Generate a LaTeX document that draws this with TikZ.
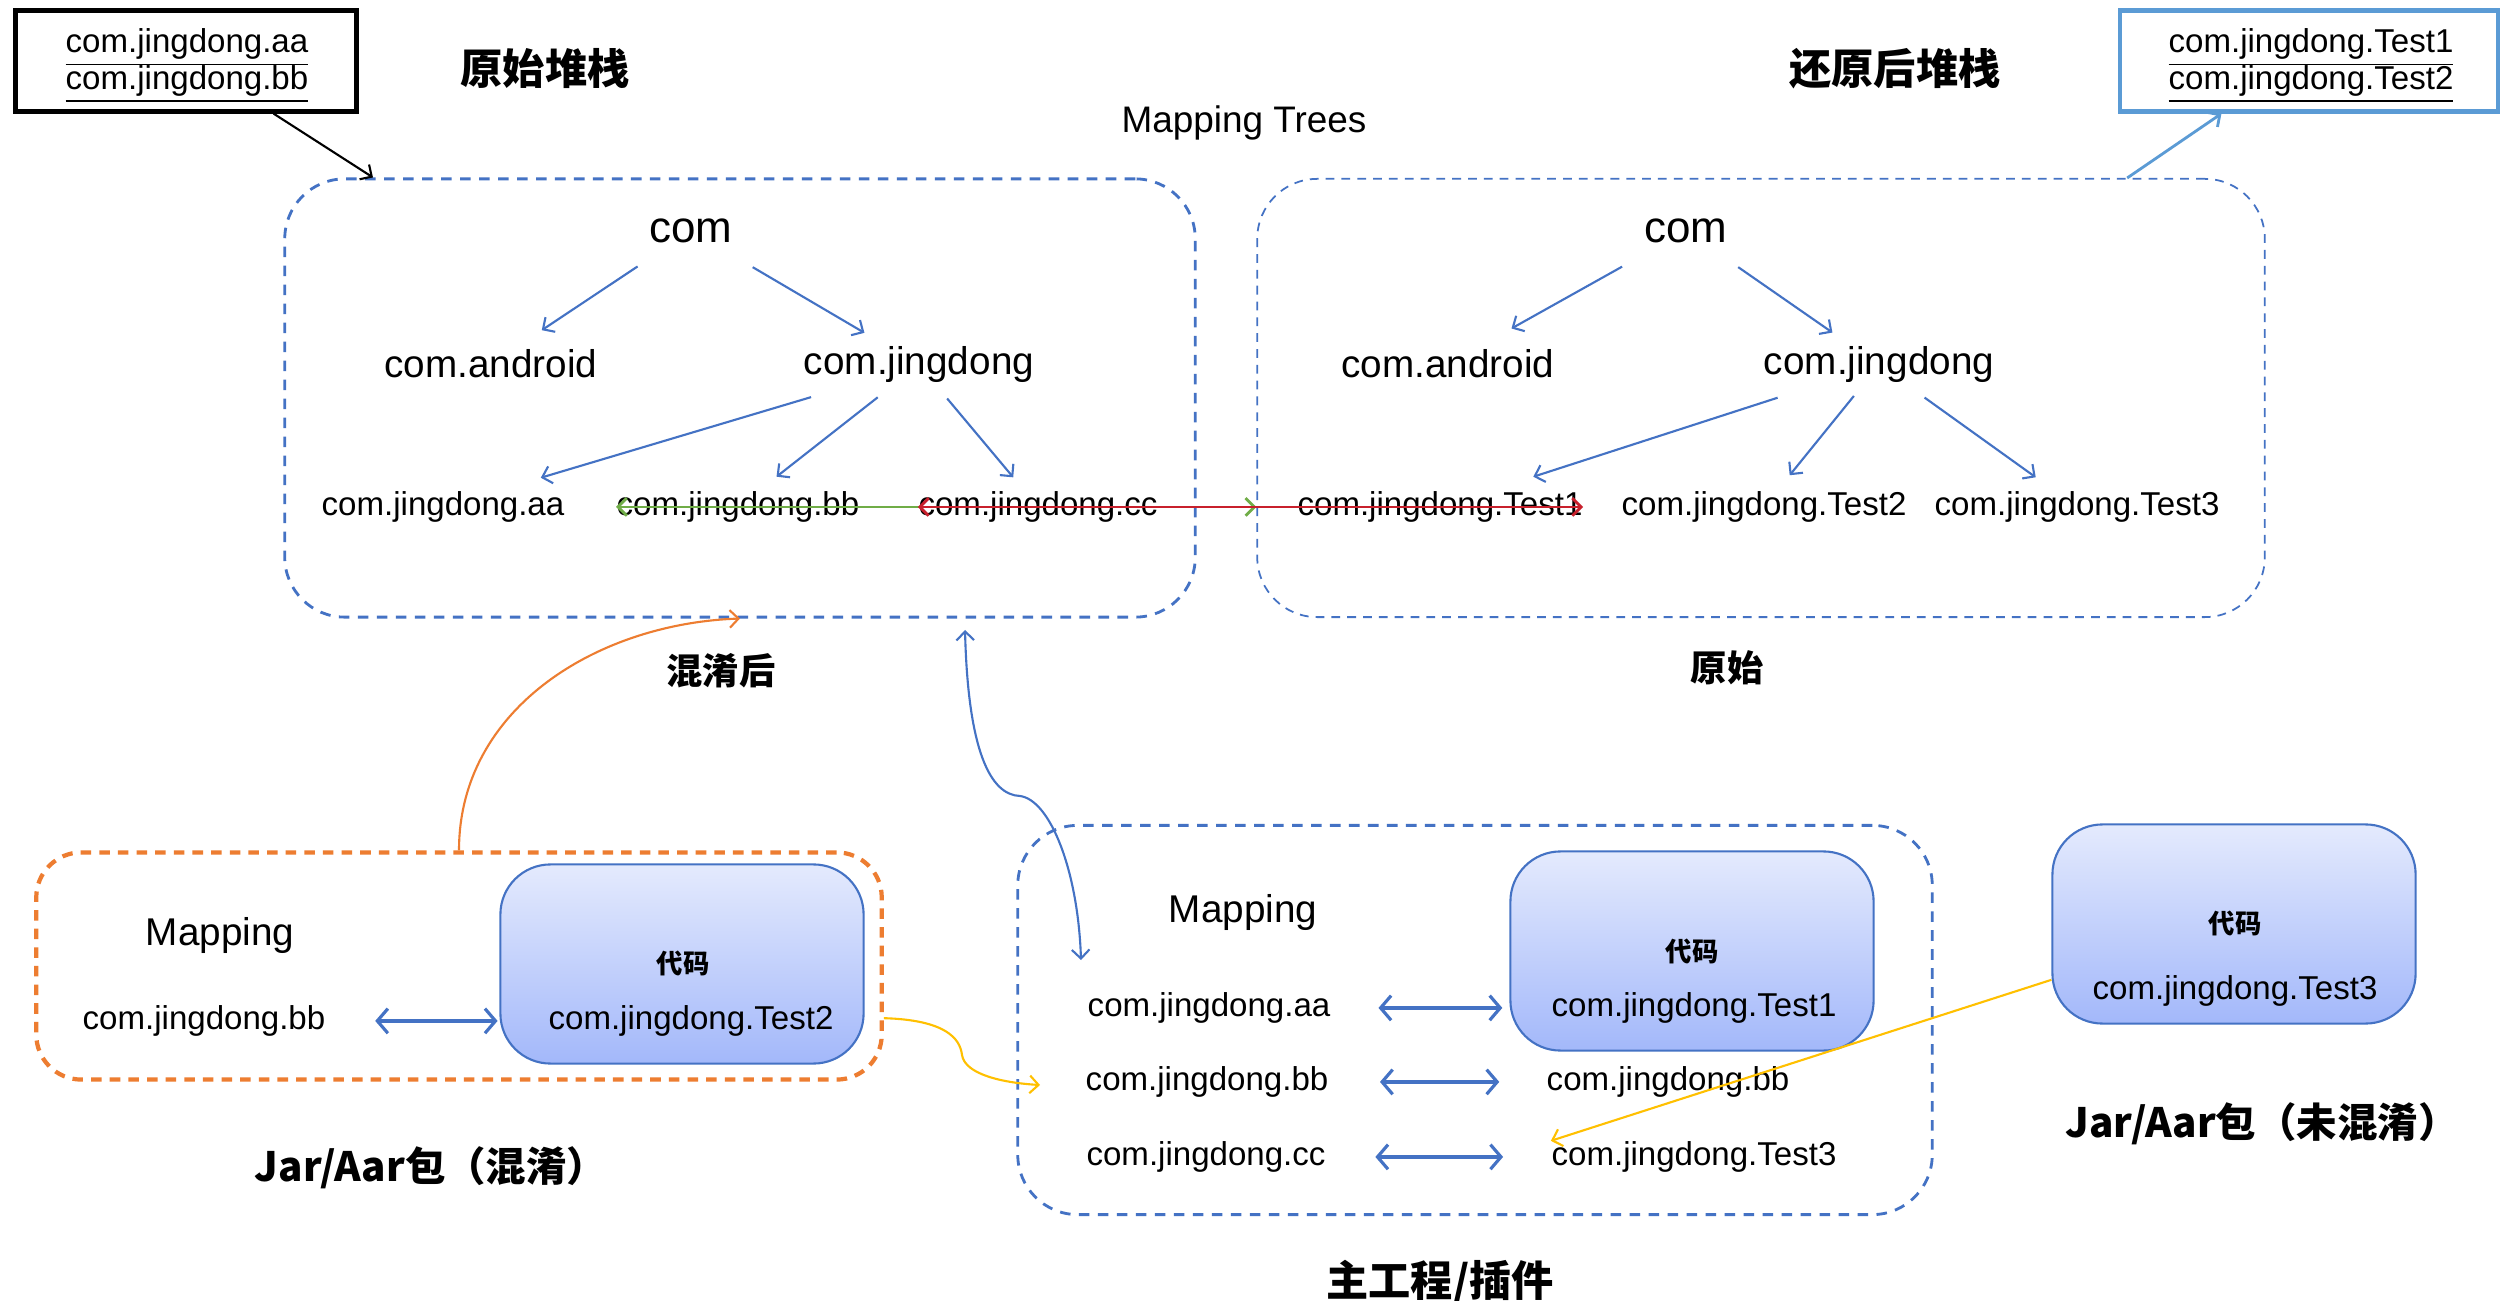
\documentclass[tikz,border=0pt]{standalone}
\usepackage{fontspec}
\setmainfont{Liberation Sans}
\newfontfamily\cjk{Noto Sans CJK SC}
\usetikzlibrary{arrows.meta, positioning}
\definecolor{jdblue}{HTML}{4472C4}
\definecolor{stackblue}{HTML}{5B9BD5}
\definecolor{jdorange}{HTML}{ED7D31}
\definecolor{jdyellow}{HTML}{FFC000}
\definecolor{jdgreen}{HTML}{70AD47}
\definecolor{jdred}{HTML}{C8202C}
\definecolor{codetop}{HTML}{E4EAFD}
\definecolor{codebot}{HTML}{A3B8FA}

\begin{document}
\begin{tikzpicture}[x=0.01cm, y=-0.01cm, >={Straight Barb[length=2.5pt, width=5pt]},
  item/.style={inner sep=0pt, yshift=-1.4pt, font=\fontsize{9.4}{11}\selectfont},
  big/.style={inner sep=0pt, font=\fontsize{11}{13}\selectfont},
  head/.style={inner sep=0pt, font=\cjk\bfseries\fontsize{12}{14}\selectfont},
  tag/.style={inner sep=0pt, font=\cjk\bfseries\fontsize{10.3}{12}\selectfont},
  code/.style={inner sep=0pt, font=\cjk\bfseries\fontsize{7.5}{9}\selectfont},
  dashbox/.style={draw=jdblue, line width=0.8pt, dash pattern=on 3pt off 2.4pt, rounded corners=0.6cm},
  codebox/.style={draw=jdblue, line width=0.6pt, rounded corners=0.5cm, top color=codetop, bottom color=codebot, minimum width=3.63cm, minimum height=1.99cm},
  treearrow/.style={->, jdblue, line width=0.6pt},
  link/.style={<->, jdblue, line width=0.9pt, >={Straight Barb[length=3pt, width=7pt]}}]
\useasboundingbox (0,0) rectangle (2501,1301);
\fill[white] (0,0) rectangle (2501,1301);

% stacks and titles
\node[draw, line width=1.2pt, minimum width=3.41cm, minimum height=1.01cm] (stackL) at (186,61) {};
\node[align=center, inner sep=0pt, font=\fontsize{9.4}{10.5}\selectfont] (stackLtxt) at (187,66) {\underline{com.jingdong.aa}\\[-1.5pt]\underline{com.jingdong.bb}};
\node[draw=stackblue, line width=1.2pt, minimum width=3.78cm, minimum height=1.01cm] (stackR) at (2309,61) {};
\node[align=center, inner sep=0pt, font=\fontsize{9.4}{10.5}\selectfont] (stackRtxt) at (2311,66) {\underline{com.jingdong.Test1}\\[-1.5pt]\underline{com.jingdong.Test2}};
\node[head] (tOrig) at (545,69) {原始堆栈};
\node[head] (tBack) at (1895,69) {还原后堆栈};
\node[inner sep=0pt, yshift=-0.8pt, font=\fontsize{10.5}{12}\selectfont] (tTrees) at (1244,120) {Mapping Trees};

% mapping trees
\node[dashbox, minimum width=9.10cm, minimum height=4.38cm] (ltree) at (740,398) {};
\node[dashbox, line width=0.5pt, dash pattern=on 2.5pt off 2pt, minimum width=10.07cm, minimum height=4.38cm] (rtree) at (1761,398) {};
\node[tag] (tMixed) at (721,671) {混淆后};
\node[tag] (tRaw) at (1727,668) {原始};

\node[inner sep=0pt, yshift=-1.4pt, font=\fontsize{12.5}{14}\selectfont] (lcom) at (691,226) {com};
\node[big] (land) at (491,364) {com.android};
\node[big, yshift=-1.4pt] (ljd) at (919,360) {com.jingdong};
\node[item] (laa) at (443,502) {com.jingdong.aa};
\node[item] (lbb) at (738,502) {com.jingdong.bb};
\node[item] (lcc) at (1038,502) {com.jingdong.cc};
\draw[treearrow, shorten <=11.7pt, shorten >=9.7pt] (lcom) -- (land);
\draw[treearrow, shorten <=13.2pt, shorten >=7.5pt] (lcom) -- (ljd);
\draw[treearrow, shorten <=13.4pt, shorten >=13pt] (ljd) -- (laa);
\draw[treearrow, shorten <=6.3pt, shorten >=6.5pt] (ljd) -- (lbb);
\draw[treearrow, shorten <=5.5pt, shorten >=5pt] (ljd) -- (lcc);

\node[inner sep=0pt, yshift=-1.4pt, font=\fontsize{12.5}{14}\selectfont] (rcom) at (1686,226) {com};
\node[big] (rand) at (1448,364) {com.android};
\node[big, yshift=-1.4pt] (rjd) at (1879,360) {com.jingdong};
\node[item] (rt1) at (1440,502) {com.jingdong.Test1};
\node[item] (rt2) at (1764,502) {com.jingdong.Test2};
\node[item] (rt3) at (2077,502) {com.jingdong.Test3};
\draw[treearrow, shorten <=13.4pt, shorten >=12pt] (rcom) -- (rand);
\draw[treearrow, shorten <=11.7pt, shorten >=6.8pt] (rcom) -- (rjd);
\draw[treearrow, shorten <=13pt, shorten >=13pt] (rjd) -- (rt1);
\draw[treearrow, shorten <=4.5pt, shorten >=5.7pt] (rjd) -- (rt2);
\draw[treearrow, shorten <=6.8pt, shorten >=6.6pt] (rjd) -- (rt3);

\draw[<->, jdgreen, line width=0.8pt] (lbb.west) -- (lbb.west -| rtree.west);
\draw[<->, jdred, line width=0.8pt] (lcc.west) -- (rt1.east);

\draw[->, line width=0.6pt] (stackL.-31) -- (ltree.149);
\draw[->, stackblue, line width=0.8pt] (rtree.31) -- (stackR.211);

% obfuscated jar/aar
\node[draw=jdorange, line width=1.2pt, dash pattern=on 3pt off 2.3pt, rounded corners=0.45cm, minimum width=8.45cm, minimum height=2.27cm] (obox) at (459,966) {};
\node[codebox] (code2) at (682,964) {};
\node[big, yshift=-1.4pt] (omap) at (220,931) {Mapping};
\node[item] (obb) at (204,1016) {com.jingdong.bb};
\node[code] (c2) at (683,963) {代码};
\node[item] (ot2) at (691,1016) {com.jingdong.Test2};
\draw[link, shorten <=14pt, shorten >=0.5pt] (obb.east) -- (obb.east -| code2.west);
\node[tag, font=\cjk\bfseries\fontsize{11.5}{13}\selectfont] (tJar) at (431,1168) {Jar/Aar包（混淆）};

% main project
\node[dashbox, minimum width=9.14cm, minimum height=3.89cm] (mbox) at (1475,1020) {};
\node[codebox] (code1) at (1692,951) {};
\node[big, yshift=-1.4pt] (mmap) at (1243,908) {Mapping};
\node[item] (maa) at (1209,1003) {com.jingdong.aa};
\node[item] (mbb) at (1207,1077) {com.jingdong.bb};
\node[item] (mcc) at (1206,1152) {com.jingdong.cc};
\node[code] (c1) at (1692,951) {代码};
\node[item] (t1) at (1694,1003) {com.jingdong.Test1};
\node[item] (rbb) at (1668,1077) {com.jingdong.bb};
\node[item] (t3) at (1694,1152) {com.jingdong.Test3};
\draw[link, shorten <=13.5pt, shorten >=2pt] (maa.east) -- (maa.east -| code1.west);
\draw[link, shorten <=14.5pt, shorten >=13.3pt] (mbb.east) -- (rbb.west);
\draw[link, shorten <=14pt, shorten >=13.6pt] (mcc.east) -- (t3.west);
\node[head] (tMain) at (1440,1282) {主工程/插件};

% plain jar/aar
\node[codebox] (code3) at (2234,924) {};
\node[code] (c3) at (2235,923) {代码};
\node[item] (ct3) at (2235,986) {com.jingdong.Test3};
\node[tag, font=\cjk\bfseries\fontsize{11.5}{13}\selectfont] (tJar2) at (2262,1124) {Jar/Aar包（未混淆）};

% cross links
\coordinate (mapTop) at (965,630);
\coordinate (mapBot) at (1081,960);
\coordinate (yEnd) at (1040,1085);
\draw[<->, jdblue, line width=0.6pt] (mapTop) .. controls (968,750) and (990,795) .. (1020,796) .. controls (1050,800) and (1078,870) .. (mapBot);
\draw[->, jdorange, line width=0.6pt] (obox.north) to[out=90, in=182] (ltree.south);
\draw[->, jdyellow, line width=0.6pt] (obox.-7) .. controls (945,1020) and (960,1038) .. (962,1055) .. controls (965,1075) and (1005,1083) .. (yEnd);
\draw[->, jdyellow, line width=0.6pt] (code3.197) -- (t3.north west);
\end{tikzpicture}
\end{document}
